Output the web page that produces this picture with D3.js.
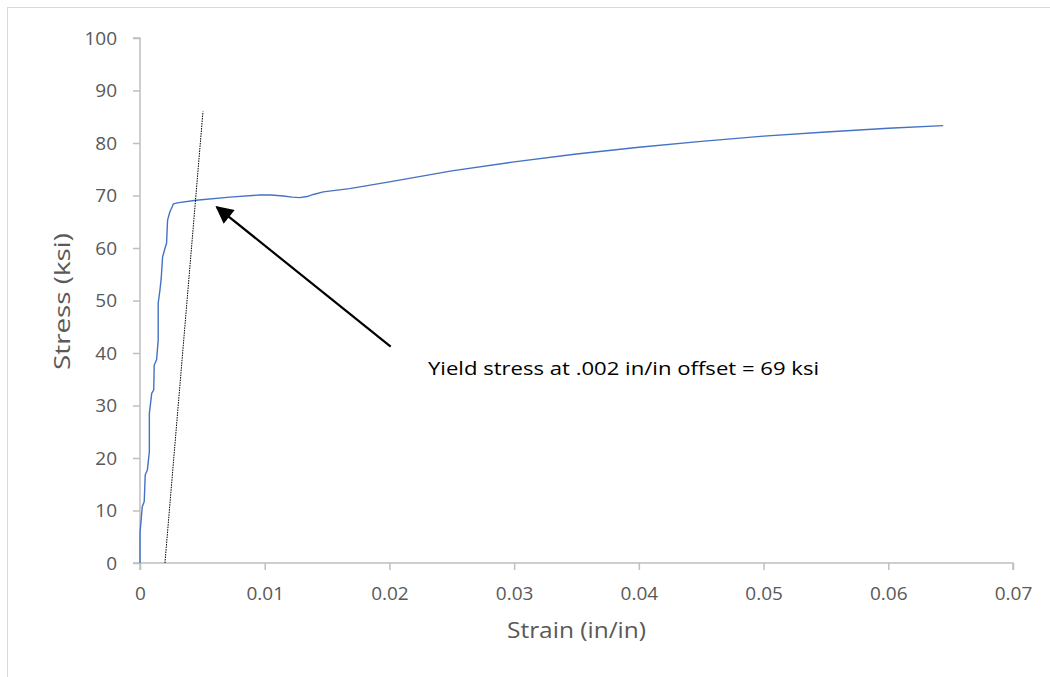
<!DOCTYPE html>
<html>
<head>
<meta charset="utf-8">
<script src="https://cdn.jsdelivr.net/npm/d3@7"></script>
<style>
  body { margin: 0; background: #fff; }
  text { font-family: "Open Sans", "Noto Sans", sans-serif; }
</style>
</head>
<body>
<div id="chart"></div>
<script>
// stress-strain test data
var strain = [0, 0, 0.00018, 0.00034, 0.00042, 0.00059, 0.00075, 0.00075, 0.00094, 0.0011,
    0.00114, 0.00133, 0.00146, 0.00146, 0.0016, 0.0017, 0.00181, 0.002, 0.00213, 0.00221,
    0.0024, 0.00259, 0.00267, 0.00299, 0.0045, 0.0072, 0.0096, 0.0105, 0.0115, 0.0122,
    0.0128, 0.0134, 0.0139, 0.0147, 0.0168, 0.02, 0.025, 0.03, 0.035, 0.04,
    0.045, 0.05, 0.055, 0.06, 0.0644];
var stress = [0, 5.7, 10.7, 11.7, 16.8, 17.7, 21.2, 28.5, 32.3, 33,
    37.7, 38.7, 42.5, 49.5, 52, 54.2, 58.3, 59.9, 60.9, 65.3,
    66.9, 67.9, 68.4, 68.6, 69.1, 69.7, 70.1, 70.1, 69.9, 69.7,
    69.6, 69.8, 70.2, 70.7, 71.3, 72.6, 74.7, 76.4, 77.9, 79.2,
    80.3, 81.3, 82.1, 82.8, 83.3];

// 0.2% offset line
var offsetStrain = [0.002, 0.00505];
var offsetStress = [0, 86];

var xTicks = [0, 0.01, 0.02, 0.03, 0.04, 0.05, 0.06, 0.07];
var yTicks = [0, 10, 20, 30, 40, 50, 60, 70, 80, 90, 100];

var note = "Yield stress at .002 in/in offset = 69 ksi";
var arrowFrom = [0.0201, 41.2];
var arrowTo = [0.00616, 67.8];

var width = 1050, height = 677;

var svg = d3.select("#chart").append("svg")
    .attr("width", width)
    .attr("height", height);

svg.append("rect")
    .attr("x", 7.5).attr("y", 7.5)
    .attr("width", width).attr("height", height)
    .style("fill", "none")
    .style("stroke", "#d9d9d9");

var x = d3.scaleLinear().domain([0, 0.07]).range([140, 1013]);
var y = d3.scaleLinear().domain([0, 100]).range([563, 38]);

var xAxis = svg.append("g")
    .attr("transform", "translate(0," + y(0) + ")")
    .call(d3.axisBottom(x).tickValues(xTicks).tickSize(7)
        .tickFormat(function (d) { return d === 0 ? "0" : d3.format(".2f")(d); }));

var yAxis = svg.append("g")
    .attr("transform", "translate(" + x(0) + ",0)")
    .call(d3.axisLeft(y).tickValues(yTicks).tickSize(7));

[xAxis, yAxis].forEach(function (ax) {
    ax.select(".domain").style("stroke", "#bfbfbf").style("stroke-width", 1.5);
    ax.selectAll(".tick line").style("stroke", "#bfbfbf").style("stroke-width", 1.5);
    ax.selectAll(".tick text")
        .style("font-size", "19px")
        .style("fill", "#595959")
        .style("font-family", "'Open Sans', sans-serif");
});
xAxis.selectAll(".tick text").attr("y", 37).attr("dy", null);
yAxis.selectAll(".tick text").attr("x", -23);
xAxis.select(".domain").attr("d", "M" + x(0) + ",7V0H" + x(0.07) + "V7");
yAxis.select(".domain").attr("d", "M-7," + y(0) + "H0V" + y(100) + "H-7");

svg.append("text")
    .attr("x", (x(0) + x(0.07)) / 2)
    .attr("y", 638)
    .attr("text-anchor", "middle")
    .attr("textLength", 139)
    .attr("lengthAdjust", "spacingAndGlyphs")
    .style("font-size", "22px")
    .style("fill", "#595959")
    .text("Strain (in/in)");

svg.append("text")
    .attr("transform", "translate(70," + (y(50) + 1) + ") rotate(-90)")
    .attr("text-anchor", "middle")
    .attr("textLength", 137)
    .attr("lengthAdjust", "spacingAndGlyphs")
    .style("font-size", "22px")
    .style("fill", "#595959")
    .text("Stress (ksi)");

var pts = strain.map(function (s, i) { return [s, stress[i]]; });

svg.append("path")
    .attr("d", d3.line()
        .x(function (d) { return x(d[0]); })
        .y(function (d) { return y(d[1]); })(pts))
    .style("fill", "none")
    .style("stroke", "#4472c4")
    .style("stroke-width", 1.4)
    .style("stroke-linejoin", "round");

svg.append("line")
    .attr("x1", x(offsetStrain[0])).attr("y1", y(offsetStress[0]))
    .attr("x2", x(offsetStrain[1])).attr("y2", y(offsetStress[1]))
    .style("stroke", "#000")
    .style("stroke-width", 1)
    .style("stroke-dasharray", "1.5,1");

svg.append("defs").append("marker")
    .attr("id", "head")
    .attr("viewBox", "0 0 10 10")
    .attr("refX", 9).attr("refY", 5)
    .attr("markerWidth", 9).attr("markerHeight", 8)
    .attr("markerUnits", "strokeWidth")
    .attr("orient", "auto")
    .append("path")
    .attr("d", "M0,0L10,5L0,10Z")
    .style("fill", "#000");

svg.append("line")
    .attr("x1", x(arrowFrom[0])).attr("y1", y(arrowFrom[1]))
    .attr("x2", x(arrowTo[0])).attr("y2", y(arrowTo[1]))
    .style("stroke", "#000")
    .style("stroke-width", 2.2)
    .attr("marker-end", "url(#head)");

svg.append("text")
    .attr("x", 428)
    .attr("y", 375)
    .attr("textLength", 391)
    .attr("lengthAdjust", "spacingAndGlyphs")
    .style("font-size", "18px")
    .style("fill", "#000")
    .text(note);
</script>
</body>
</html>
